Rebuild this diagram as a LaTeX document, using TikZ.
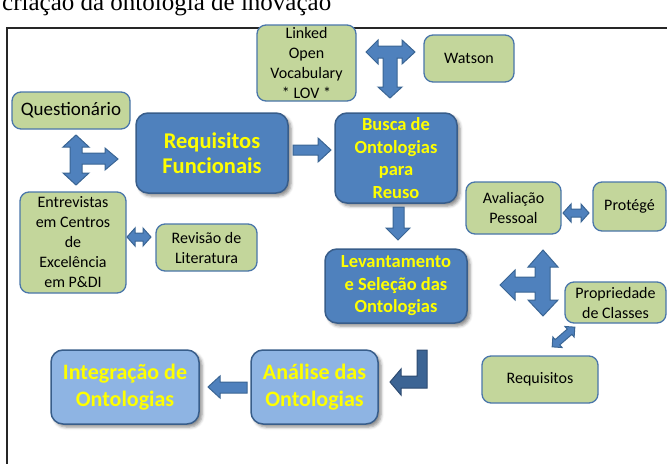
\documentclass[tikz,border=0pt]{standalone}
\usepackage{fontspec}
\setmainfont{Carlito}
\newfontfamily\captionserif{Liberation Serif}
\usetikzlibrary{shadows.blur}

\definecolor{boxgreen}{HTML}{C3D69B}
\definecolor{greenedge}{HTML}{4A76AA}
\definecolor{darkfill}{HTML}{4F81BD}
\definecolor{darkedge}{HTML}{385D8A}
\definecolor{lightfill}{HTML}{8EB4E3}
\definecolor{arrowfill}{HTML}{4F81BD}
\definecolor{arrowedge}{HTML}{3A6594}
\definecolor{bentfill}{HTML}{3C6494}
\definecolor{bentedge}{HTML}{2C4A70}
\definecolor{labelyellow}{HTML}{FFFF00}

\begin{document}
\begin{tikzpicture}[x=1pt,y=-1pt,
  greenbox/.style={draw=greenedge, line width=1.3pt, fill=boxgreen,
    rounded corners=9pt, align=center, inner sep=2pt,
    font=\fontsize{16}{20}\selectfont},
  darkbox/.style={draw=darkedge, line width=1.5pt, fill=darkfill,
    rounded corners=12pt, align=center, inner sep=2pt, text=labelyellow,
    font=\bfseries\fontsize{18.5}{22.5}\selectfont,
    blur shadow={shadow xshift=3pt, shadow yshift=-3pt,
      shadow blur radius=3pt, shadow opacity=45}},
  lightbox/.style={darkbox, fill=lightfill,
    font=\bfseries\fontsize{22}{27}\selectfont},
  blockarrow/.style={draw=arrowedge, line width=1pt, fill=arrowfill,
    line join=miter},
  bentarrow/.style={draw=bentedge, line width=1pt, fill=bentfill,
    line join=miter},
]
\useasboundingbox (0,0) rectangle (667,464);
\clip (0,0) rectangle (667,464);

% caption line running above the frame
\node[anchor=base west, inner sep=0pt,
  font=\captionserif\fontsize{25}{25}\selectfont] (caption) at (2,10.5)
  {criação da ontologia de inovação};

% frame
\draw[line width=1.2pt, black!85] (6,28) -- (667,28);
\draw[line width=2pt, black!85] (7,27.4) -- (7,464);

% source boxes
\node[greenbox, minimum width=99pt, minimum height=76pt] (lov) at (306.5,63)
  {Linked\\Open\\Vocabulary\\* LOV *};
\node[greenbox, minimum width=90pt, minimum height=47pt] (watson) at (469,58.5)
  {Watson};
\node[greenbox, minimum width=118pt, minimum height=37pt,
  font=\fontsize{19}{22}\selectfont] (quest) at (71,110.5)
  {Questionário};
\node[greenbox, minimum width=106pt, minimum height=101pt] (entrev) at (73,242.5)
  {Entrevistas\\em Centros\\de\\Excelência\\em P\&DI};
\node[greenbox, minimum width=101pt, minimum height=47pt] (revisao) at (206.5,247.5)
  {Revisão de\\Literatura};
\node[greenbox, minimum width=95pt, minimum height=52pt] (aval) at (513.5,208)
  {Avaliação\\Pessoal};
\node[greenbox, minimum width=73pt, minimum height=49pt] (protege) at (629.5,206.5)
  {Protégé};
\node[greenbox, minimum width=101pt, minimum height=41pt] (propr) at (615.5,302.5)
  {Propriedade\\de Classes};
\node[greenbox, minimum width=116pt, minimum height=47pt] (requis) at (540,379.5)
  {Requisitos};

% process boxes
\node[darkbox, minimum width=152pt, minimum height=80pt,
  font=\bfseries\fontsize{22.5}{25}\selectfont] (reqf) at (212,153)
  {Requisitos\\Funcionais};
\node[darkbox, minimum width=122pt, minimum height=90pt] (busca) at (396,158)
  {Busca de\\Ontologias\\para\\Reuso};
\node[darkbox, minimum width=142pt, minimum height=74pt] (lev) at (396,286)
  {Levantamento\\e Seleção das\\Ontologias};
\node[lightbox, minimum width=127pt, minimum height=74pt] (analise) at (314.5,387)
  {Análise das\\Ontologias};
\node[lightbox, minimum width=148pt, minimum height=74pt] (integ) at (125,387)
  {Integração de\\Ontologias};

% three-way arrow: LOV / Watson / Busca
\draw[blockarrow] (366,52) -- (378,40) -- (378,46) -- (402,46) -- (402,40)
  -- (415,52) -- (402,64) -- (402,58) -- (397,58) -- (397,87) -- (402,87)
  -- (390,98) -- (378,87) -- (383,87) -- (383,58) -- (378,58) -- (378,64)
  -- cycle;

% three-way arrow: Questionário / Entrevistas / Requisitos Funcionais
\draw[blockarrow] (76,135) -- (89,147) -- (82,147) -- (82,153) -- (105,153)
  -- (105,148) -- (118,159) -- (105,170) -- (105,164) -- (82,164)
  -- (82,173) -- (89,173) -- (76,185) -- (63,173) -- (70,173) -- (70,147)
  -- (63,147) -- cycle;

% three-way arrow: Avaliação / Propriedade / Levantamento
\draw[blockarrow] (543,250) -- (558,267) -- (550,267) -- (550,300)
  -- (558,300) -- (543,316) -- (528,300) -- (535,300) -- (535,292)
  -- (515,292) -- (515,300) -- (500,285) -- (515,270) -- (515,277)
  -- (535,277) -- (535,267) -- (528,267) -- cycle;

% Requisitos Funcionais -> Busca
\draw[blockarrow] (293,145) -- (318,145) -- (318,138) -- (331,150)
  -- (318,162) -- (318,155) -- (293,155) -- cycle;

% Busca -> Levantamento
\draw[blockarrow] (393,207) -- (404,207) -- (404,228) -- (410,228)
  -- (398,240) -- (386,228) -- (393,228) -- cycle;

% Entrevistas <-> Revisão
\draw[blockarrow] (127,237) -- (135,228) -- (135,233) -- (143,233)
  -- (143,228) -- (151,237) -- (143,246) -- (143,241) -- (135,241)
  -- (135,246) -- cycle;

% Avaliação <-> Protégé
\draw[blockarrow] (563,213) -- (571,204) -- (571,209) -- (581,209)
  -- (581,204) -- (589,213) -- (581,222) -- (581,217) -- (571,217)
  -- (571,222) -- cycle;

% Propriedade <-> Requisitos (diagonal)
\begin{scope}[shift={(563.5,337)}, rotate=41]
  \draw[blockarrow] (-15,0) -- (-8,-7) -- (-8,-3.5) -- (8,-3.5) -- (8,-7)
    -- (15,0) -- (8,7) -- (8,3.5) -- (-8,3.5) -- (-8,7) -- cycle;
\end{scope}

% Levantamento -> Análise (bent)
\draw[bentarrow] (417,350) -- (427,350) -- (427,388) -- (401,388)
  -- (401,395) -- (390,382) -- (401,369) -- (401,376) -- (417,376) -- cycle;

% Análise -> Integração
\draw[blockarrow] (247,382) -- (220,382) -- (220,376) -- (208,387)
  -- (220,398) -- (220,393) -- (247,393) -- cycle;

\end{tikzpicture}
\end{document}
